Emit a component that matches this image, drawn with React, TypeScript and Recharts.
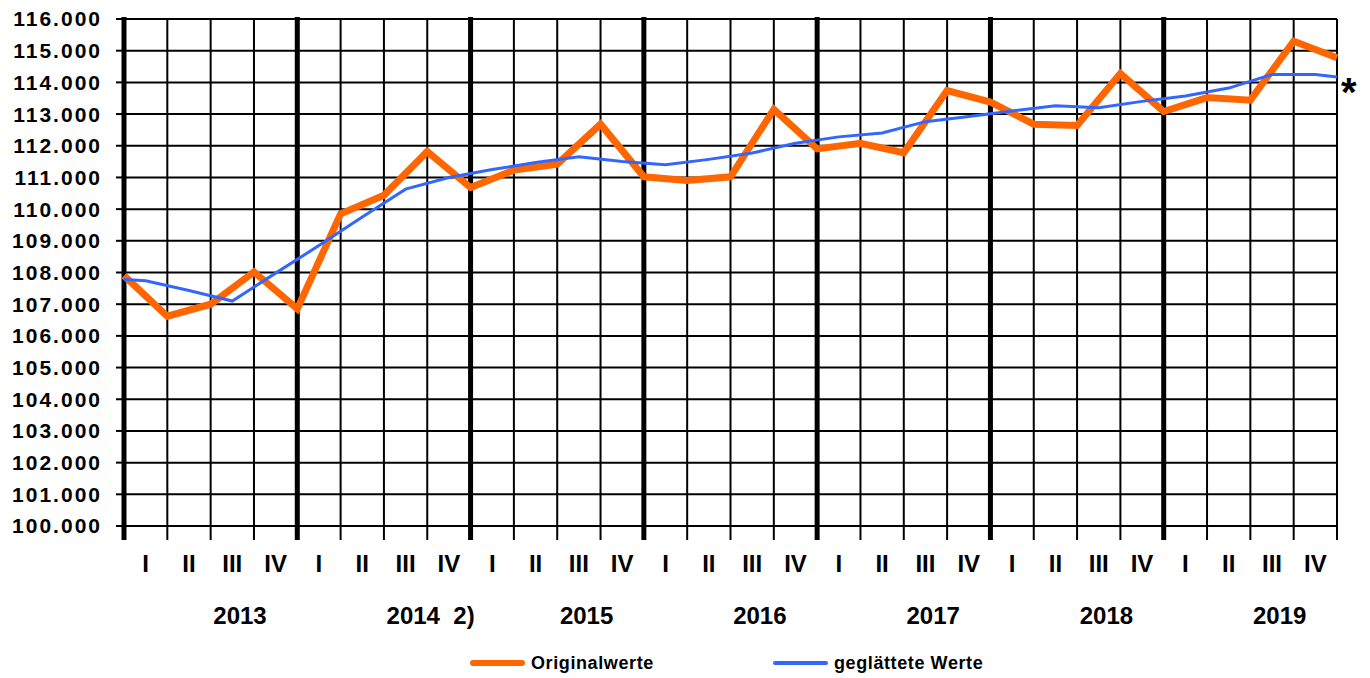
import { LineChart, Line, XAxis, YAxis, CartesianGrid, ReferenceLine } from "recharts";

const quarterNames = ["I", "II", "III", "IV"];
const yearLabels = ["2013", "2014\u00a0 2)", "2015", "2016", "2017", "2018", "2019"];

// Originalwerte: one value per quarter boundary (29 points)
const originalValues = [
  107900, 106620, 107000, 108020, 106850,
  109850, 110440, 111820, 110680,
  111230, 111420, 112680, 111020,
  110900, 111020, 113150, 111900,
  112080, 111780, 113740, 113380,
  112680, 112640, 114280, 113080,
  113520, 113440, 115300, 114780,
];

// geglättete Werte: start, one value per quarter centre, end (30 points)
const smoothedValues = [
  107780,
  107740, 107430, 107100, 107980,
  108850, 109750, 110630, 111000,
  111250, 111470, 111650, 111500,
  111400, 111570, 111770, 112080,
  112280, 112400, 112760, 112920,
  113100, 113260, 113200, 113400,
  113570, 113820, 114250, 114250,
  114170,
];

const yTicks = [
  100000, 101000, 102000, 103000, 104000, 105000, 106000, 107000, 108000,
  109000, 110000, 111000, 112000, 113000, 114000, 115000, 116000,
];

const FONT = "'Liberation Sans', Arial, sans-serif";
const ORANGE = "#FF6600";
const BLUE = "#3366FF";

const CHART_W = 1370;
const CHART_H = 678;
const MARGIN = { top: 19, right: 33, bottom: 0, left: 0 };
const Y_AXIS_W = 124;

const lastIndex = originalValues.length - 1;
const originalData = originalValues.map((v, i) => ({ x: i, value: v }));
const smoothedData = smoothedValues.map((v, i) => ({
  x: i === 0 ? 0 : i === smoothedValues.length - 1 ? lastIndex : i - 0.5,
  value: v,
}));
const gridTicks = originalData.map((d) => d.x);
const yearStarts = yearLabels.map((_, i) => i * quarterNames.length);
const halfStep = (CHART_W - MARGIN.right - Y_AXIS_W) / lastIndex / 2;

const legendItems = [
  { name: "Originalwerte", color: ORANGE, thickness: 6, left: 470 },
  { name: "geglättete Werte", color: BLUE, thickness: 4, left: 773 },
];

const fmtThousands = (v: number) => {
  const k = Math.floor(v / 1000);
  const r = String(Math.round(v % 1000)).padStart(3, "0");
  return `${k}.${r}`;
};

// labels sit between the tick marks: quarter numeral, plus the year under quarter III
function QuarterTick(props: any) {
  const { x, y, payload } = props;
  const i = Math.round(payload.value);
  if (i >= lastIndex) return <g />;
  const cx = x + halfStep;
  const q = quarterNames[i % 4];
  const year = i % 4 === 2 ? yearLabels[Math.floor(i / 4)] : null;
  return (
    <g>
      <text x={cx} y={y + 32} textAnchor="middle" fontFamily={FONT} fontWeight={700} fontSize={24} fill="#000">
        {q}
      </text>
      {year && (
        <text x={cx - 19} y={y + 84} textAnchor="start" fontFamily={FONT} fontWeight={700} fontSize={24} fill="#000">
          {year}
        </text>
      )}
    </g>
  );
}

export default function App() {
  return (
    <div
      style={{
        position: "absolute",
        left: 0,
        top: 0,
        width: CHART_W,
        height: CHART_H,
        background: "#fff",
        fontFamily: FONT,
      }}
    >
      <LineChart width={CHART_W} height={CHART_H} margin={MARGIN}>
        <CartesianGrid stroke="#000" strokeWidth={2} />
        <XAxis
          dataKey="x"
          type="number"
          domain={[0, lastIndex]}
          ticks={gridTicks}
          interval={0}
          tick={<QuarterTick />}
          tickSize={14}
          tickMargin={0}
          tickLine={{ stroke: "#000", strokeWidth: 2 }}
          axisLine={false}
          height={152}
        />
        <YAxis
          type="number"
          domain={[100000, 116000]}
          ticks={yTicks}
          interval={0}
          width={Y_AXIS_W}
          tickSize={8}
          tickMargin={14}
          tickLine={{ stroke: "#000", strokeWidth: 2 }}
          axisLine={false}
          tick={{ fill: "#000", fontSize: 21, fontWeight: 700, fontFamily: FONT, letterSpacing: 2 }}
          tickFormatter={fmtThousands}
        />
        {yearStarts.map((k) => (
          <ReferenceLine
            key={k}
            segment={[
              { x: k, y: 99560 },
              { x: k, y: 116060 },
            ]}
            stroke="#000"
            strokeWidth={5}
            ifOverflow="visible"
          />
        ))}
        <Line
          data={originalData}
          dataKey="value"
          type="linear"
          stroke={ORANGE}
          strokeWidth={7}
          dot={false}
          activeDot={false}
          isAnimationActive={false}
        />
        <Line
          data={smoothedData}
          dataKey="value"
          type="linear"
          stroke={BLUE}
          strokeWidth={3}
          dot={false}
          activeDot={false}
          isAnimationActive={false}
        />
      </LineChart>

      <span
        style={{
          position: "absolute",
          left: 1341,
          top: 72,
          fontSize: 40,
          lineHeight: "40px",
          fontWeight: 700,
          color: "#000",
        }}
      >
        *
      </span>

      {legendItems.map((item) => (
        <div
          key={item.name}
          style={{
            position: "absolute",
            left: item.left,
            top: 653,
            height: 20,
            display: "flex",
            alignItems: "center",
          }}
        >
          <div
            style={{
              width: 55,
              height: item.thickness,
              borderRadius: item.thickness / 2,
              background: item.color,
            }}
          />
          <span
            style={{
              marginLeft: 6,
              fontSize: 18,
              lineHeight: "20px",
              fontWeight: 700,
              letterSpacing: 0.6,
              color: "#000",
            }}
          >
            {item.name}
          </span>
        </div>
      ))}
    </div>
  );
}
